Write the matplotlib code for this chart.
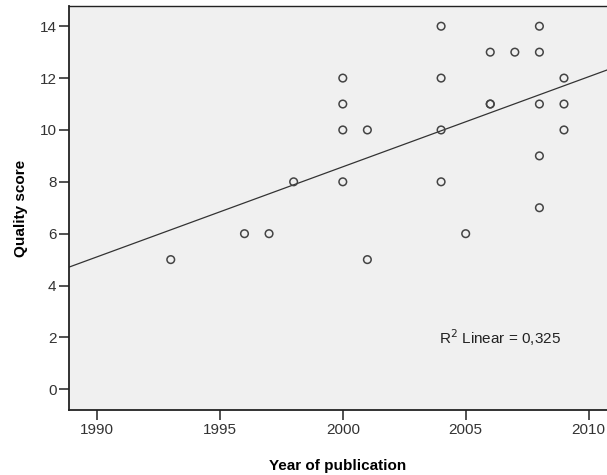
import numpy as np
import matplotlib.pyplot as plt

plt.rcParams['font.family'] = ['Liberation Sans', 'DejaVu Sans']

year = [1993, 1996, 1997, 1998,
        2000, 2000, 2000, 2000,
        2001, 2001,
        2004, 2004, 2004, 2004,
        2005,
        2006, 2006, 2006,
        2007,
        2008, 2008, 2008, 2008, 2008,
        2009, 2009, 2009]
score = [5, 6, 6, 8,
         8, 10, 11, 12,
         10, 5,
         14, 12, 10, 8,
         6,
         13, 11, 11,
         13,
         14, 13, 11, 9, 7,
         12, 11, 10]

fig = plt.figure(figsize=(6.07, 4.75), dpi=100)
ax = fig.add_axes([69 / 607, 65 / 475, 538 / 607, 404 / 475])
ax.set_facecolor('#f0f0f0')

ax.scatter(year, score, s=30, facecolors='none', edgecolors='#444444',
           linewidths=1.1, zorder=3)

# linear fit line
xlim = (1988.86, 2010.75)
k, b = np.polyfit(year, score, 1)
xs = np.array(xlim)
ax.plot(xs, k * xs + b, color='#333333', lw=0.9, zorder=2)

ax.text(2003.9, 2, r'R$^2$ Linear = 0,325', fontsize=11, color='#222222',
        va='center', ha='left')

ax.set_xlim(*xlim)
ax.set_ylim(-0.8, 14.78)
ax.set_xticks([1990, 1995, 2000, 2005, 2010])
ax.set_yticks([0, 2, 4, 6, 8, 10, 12, 14])
ax.tick_params(direction='out', length=7, width=1.1, color='#222222',
               labelsize=11, labelcolor='#333333', pad=2)

ax.spines['right'].set_visible(False)
ax.spines['top'].set_linewidth(1.0)
ax.spines['left'].set_linewidth(1.3)
ax.spines['bottom'].set_linewidth(1.3)
for s in ax.spines.values():
    s.set_color('#222222')

ax.set_xlabel('Year of publication', fontsize=11, fontweight='bold', labelpad=16)
ax.set_ylabel('Quality score', fontsize=11, fontweight='bold', labelpad=8)

fig.savefig('out.png', dpi=100)
